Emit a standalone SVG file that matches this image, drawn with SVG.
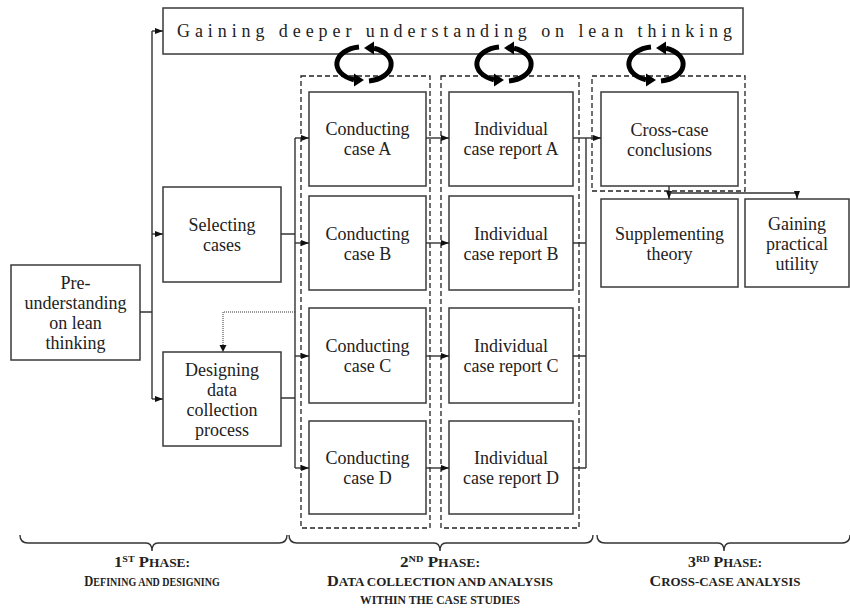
<svg xmlns="http://www.w3.org/2000/svg" width="850" height="608" viewBox="0 0 850 608">
<style>
.box{fill:#fff;stroke:#3a3a3a;stroke-width:1.5}
.dash{fill:none;stroke:#222;stroke-width:1.3;stroke-dasharray:5,3}
.t{font-family:"Liberation Serif","Times New Roman",serif;font-size:18px;fill:#222;text-anchor:middle}
.ln{fill:none;stroke:#333;stroke-width:1.4}
.dot{fill:none;stroke:#333;stroke-width:1;stroke-dasharray:1,1}
.ph{font-family:"Liberation Serif","Times New Roman",serif;font-weight:bold;fill:#222;text-anchor:middle;font-size:12px}
.big{font-size:15px}
.sup{font-size:9px}
.cyc{fill:none;stroke:#000;stroke-width:5}
</style>
<defs>
<marker id="ah" viewBox="0 0 8 6" refX="8" refY="3" markerWidth="8" markerHeight="6" markerUnits="userSpaceOnUse" orient="auto"><path d="M0,0 L8,3 L0,6 z" fill="#111"/></marker>
<g id="cyc">
<path class="cyc" d="M -5,-17 A 26,17 0 0 0 -10,15.8"/>
<polygon points="0,16 -10,9.5 -10,22.5" fill="#000"/>
<path class="cyc" d="M 5,17 A 26,17 0 0 0 10,-15.8"/>
<polygon points="0,-16 10,-22.5 10,-9.5" fill="#000"/>
</g>
</defs>

<g id="containers">
<rect class="dash" x="301" y="76" width="129" height="452"/>
<rect class="dash" x="441" y="76" width="138" height="452"/>
<rect class="dash" x="592" y="76" width="153" height="115"/>
</g>

<g id="top">
<rect class="box" x="163" y="8" width="580" height="46"/>
<text class="t" x="177" y="37" style="text-anchor:start" textLength="555" lengthAdjust="spacing">Gaining deeper understanding on lean thinking</text>
</g>

<g id="cycles">
<use href="#cyc" x="364" y="64"/>
<use href="#cyc" x="504" y="64"/>
<use href="#cyc" x="656" y="64"/>
</g>

<g id="pre">
<rect class="box" x="11" y="265" width="129" height="95"/>
<text class="t" x="75.5" y="289">Pre-</text>
<text class="t" x="75.5" y="309">understanding</text>
<text class="t" x="75.5" y="329">on lean</text>
<text class="t" x="75.5" y="349">thinking</text>
</g>

<g id="selecting">
<rect class="box" x="163" y="187" width="118" height="95"/>
<text class="t" x="222" y="231">Selecting</text>
<text class="t" x="222" y="251">cases</text>
</g>

<g id="designing">
<rect class="box" x="163" y="352" width="118" height="94"/>
<text class="t" x="222" y="376">Designing</text>
<text class="t" x="222" y="396">data</text>
<text class="t" x="222" y="416">collection</text>
<text class="t" x="222" y="436">process</text>
</g>

<g id="condA"><rect class="box" x="309" y="92" width="117" height="94"/>
<text class="t" x="367.5" y="135">Conducting</text><text class="t" x="367.5" y="155">case A</text></g>
<g id="condB"><rect class="box" x="309" y="196" width="117" height="94"/>
<text class="t" x="367.5" y="240">Conducting</text><text class="t" x="367.5" y="260">case B</text></g>
<g id="condC"><rect class="box" x="309" y="308" width="117" height="95"/>
<text class="t" x="367.5" y="352">Conducting</text><text class="t" x="367.5" y="372">case C</text></g>
<g id="condD"><rect class="box" x="309" y="421" width="117" height="93"/>
<text class="t" x="367.5" y="464">Conducting</text><text class="t" x="367.5" y="484">case D</text></g>

<g id="repA"><rect class="box" x="449" y="92" width="124" height="94"/>
<text class="t" x="511" y="135">Individual</text><text class="t" x="511" y="155">case report A</text></g>
<g id="repB"><rect class="box" x="449" y="196" width="124" height="94"/>
<text class="t" x="511" y="240">Individual</text><text class="t" x="511" y="260">case report B</text></g>
<g id="repC"><rect class="box" x="449" y="308" width="124" height="95"/>
<text class="t" x="511" y="352">Individual</text><text class="t" x="511" y="372">case report C</text></g>
<g id="repD"><rect class="box" x="449" y="421" width="124" height="93"/>
<text class="t" x="511" y="464">Individual</text><text class="t" x="511" y="484">case report D</text></g>

<g id="cross"><rect class="box" x="601" y="92" width="137" height="94"/>
<text class="t" x="669.5" y="136">Cross-case</text><text class="t" x="669.5" y="156">conclusions</text></g>

<g id="supp"><rect class="box" x="601" y="199" width="137" height="88"/>
<text class="t" x="669.5" y="240">Supplementing</text><text class="t" x="669.5" y="260">theory</text></g>

<g id="util"><rect class="box" x="745" y="199" width="104" height="88"/>
<text class="t" x="797" y="230">Gaining</text><text class="t" x="797" y="250">practical</text><text class="t" x="797" y="270">utility</text></g>

<g id="connectors">
<path class="ln" d="M140,312 H152 M152,31 V399"/>
<path class="ln" d="M152,31 H163" marker-end="url(#ah)"/>
<path class="ln" d="M152,234 H163" marker-end="url(#ah)"/>
<path class="ln" d="M152,399 H163" marker-end="url(#ah)"/>
<path class="ln" d="M281,234 H295 M281,398 H295 M295,138 V468"/>
<path class="ln" d="M295,138 H309" marker-end="url(#ah)"/>
<path class="ln" d="M295,243 H309" marker-end="url(#ah)"/>
<path class="ln" d="M295,356 H309" marker-end="url(#ah)"/>
<path class="ln" d="M295,468 H309" marker-end="url(#ah)"/>
<path class="dot" d="M295,312 H223 V346"/>
<path d="M219.5,345 L226.5,345 L223,352 z" fill="#111"/>
<path class="ln" d="M426,138 H449" marker-end="url(#ah)"/>
<path class="ln" d="M426,243 H449" marker-end="url(#ah)"/>
<path class="ln" d="M426,356 H449" marker-end="url(#ah)"/>
<path class="ln" d="M426,468 H449" marker-end="url(#ah)"/>
<path class="ln" d="M573,243 H586 M573,356 H586 M573,468 H586 M586,138 V468"/>
<path class="ln" d="M573,138 H601" marker-end="url(#ah)"/>
<path class="ln" d="M669,186 V199" marker-end="url(#ah)"/>
<path class="ln" d="M669,193 H797 V199" marker-end="url(#ah)"/>
</g>

<g id="phases">
<path class="ln" d="M20,535 Q20,543 28,543 H146 Q152,543 152,551 Q152,543 158,543 H279 Q287,543 287,535"/>
<path class="ln" d="M289,535 Q289,543 297,543 H434 Q440,543 440,551 Q440,543 446,543 H585 Q593,543 593,535"/>
<path class="ln" d="M597,535 Q597,543 605,543 H718 Q724,543 724,551 Q724,543 730,543 H842 Q850,543 850,535"/>
<text class="ph" x="152" y="567" textLength="76" lengthAdjust="spacingAndGlyphs"><tspan class="big">1</tspan><tspan class="sup" dy="-5">ST</tspan><tspan class="big" dy="5"> P</tspan>HASE:</text>
<text class="ph" transform="translate(152,586) scale(0.835,1)"><tspan class="big">D</tspan>EFINING AND DESIGNING</text>
<text class="ph" x="440" y="567" textLength="80" lengthAdjust="spacingAndGlyphs"><tspan class="big">2</tspan><tspan class="sup" dy="-5">ND</tspan><tspan class="big" dy="5"> P</tspan>HASE:</text>
<text class="ph" x="440" y="586" textLength="226" lengthAdjust="spacingAndGlyphs"><tspan class="big">D</tspan>ATA COLLECTION AND ANALYSIS</text>
<text class="ph" x="440" y="604" textLength="160" lengthAdjust="spacingAndGlyphs">WITHIN THE CASE STUDIES</text>
<text class="ph" x="725" y="567" textLength="74" lengthAdjust="spacingAndGlyphs"><tspan class="big">3</tspan><tspan class="sup" dy="-5">RD</tspan><tspan class="big" dy="5"> P</tspan>HASE:</text>
<text class="ph" x="725" y="586" textLength="151" lengthAdjust="spacingAndGlyphs"><tspan class="big">C</tspan>ROSS-CASE ANALYSIS</text>
</g>
</svg>
